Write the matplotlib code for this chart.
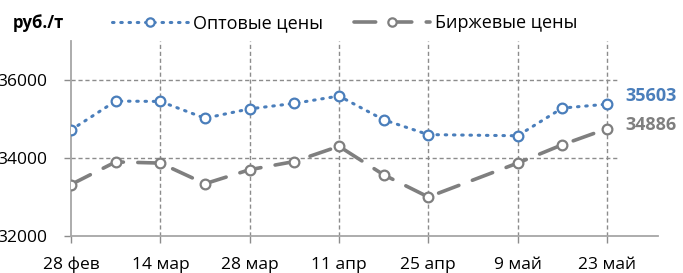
import matplotlib
matplotlib.use("Agg")
import matplotlib.pyplot as plt
import matplotlib.dates as mdates
from matplotlib.lines import Line2D
import datetime as dt

plt.rcParams['font.family'] = ['Open Sans', 'DejaVu Sans']

dates = ["2022-02-28", "2022-03-07", "2022-03-14", "2022-03-21", "2022-03-28",
         "2022-04-04", "2022-04-11", "2022-04-18", "2022-04-25",
         "2022-05-09", "2022-05-16", "2022-05-23"]
wholesale = [34720, 35460, 35450, 35020, 35260, 35400, 35590, 34980, 34600, 34570, 35280, 35380]
exchange = [33320, 33900, 33870, 33340, 33700, 33910, 34300, 33570, 33000, 33870, 34340, 34750]
tick_dates = ["2022-02-28", "2022-03-14", "2022-03-28", "2022-04-11", "2022-04-25", "2022-05-09", "2022-05-23"]
tick_labels = ["28 фев", "14 мар", "28 мар", "11 апр", "25 апр", "9 май", "23 май"]
yticks = [32000, 34000, 36000]
end_labels = ["35603", "34886"]
legend_labels = ["Оптовые цены", "Биржевые цены"]
unit_label = "руб./т"

BLUE = "#4A7EBB"
GRAY = "#7F7F7F"
GRID = "#8C8C8C"

x = [dt.datetime.strptime(d, "%Y-%m-%d") for d in dates]
xt = [dt.datetime.strptime(d, "%Y-%m-%d") for d in tick_dates]

fig = plt.figure(figsize=(6.83, 2.73), dpi=100)
ax = fig.add_axes([71/683, 37/273, (658-71)/683, (236-41)/273])

ax.set_xlim(xt[0], xt[-1] + dt.timedelta(days=8))
ax.set_ylim(32000, 37000)

# gridlines
for t in xt[1:]:
    ax.axvline(t, color=GRID, lw=1.0, ls=(0, (3, 2)), zorder=1)
gx_end = mdates.date2num(xt[-1]) + 1.7
for yv in yticks[1:]:
    ax.hlines(yv, mdates.date2num(xt[0]), gx_end, color=GRID, lw=1.0, ls=(0, (3, 2)), zorder=1)

ax.plot(x, wholesale, color=BLUE, lw=2.2, ls=(0, (0.5, 2.2)), dash_capstyle='round',
        marker='o', ms=7, mfc='white', mec=BLUE, mew=1.6, zorder=3)
ax.plot(x, exchange, color=GRAY, lw=2.6, ls=(0, (6, 4)), dash_capstyle='round',
        marker='o', ms=7, mfc='white', mec=GRAY, mew=1.6, zorder=3)

ax.set_xticks(xt)
ax.set_xticklabels(tick_labels)
ax.set_yticks(yticks)
ax.set_yticklabels([str(v) for v in yticks])
ax.tick_params(axis='both', labelsize=12.5, colors="#000000", length=5, width=1.0)
ax.tick_params(axis='x', color=GRID, pad=10)
ax.tick_params(axis='y', color=GRID, pad=12)

for s in ['top', 'right']:
    ax.spines[s].set_visible(False)
for s in ['left', 'bottom']:
    ax.spines[s].set_color("#A6A6A6")
    ax.spines[s].set_linewidth(1.3)
    ax.spines[s].set_zorder(2)

ax.annotate(end_labels[0], xy=(x[-1], wholesale[-1]), xytext=(13, 6), textcoords='offset points',
            color=BLUE, fontsize=13, fontweight='bold', va='center', ha='left', annotation_clip=False)
ax.annotate(end_labels[1], xy=(x[-1], exchange[-1]), xytext=(13, 3), textcoords='offset points',
            color=GRAY, fontsize=13, fontweight='bold', va='center', ha='left', annotation_clip=False)

fig.text(13/683, 1 - 23/273, unit_label, fontsize=12, fontweight='bold', va='center', ha='left')

handles = [
    Line2D([], [], color=BLUE, lw=2.2, ls=(0, (0.5, 2.2)), dash_capstyle='round',
           marker='o', ms=6, mfc='white', mec=BLUE, mew=1.6),
    Line2D([], [], color=GRAY, lw=2.6, ls=(0, (6, 4)), dash_capstyle='round',
           marker='o', ms=6, mfc='white', mec=GRAY, mew=1.6),
]
fig.legend(handles, legend_labels, loc='center left', bbox_to_anchor=(112/683, 1 - 23/273),
           ncol=2, frameon=False, fontsize=13, handlelength=4.2, columnspacing=1.7,
           handletextpad=0.3, borderaxespad=0, borderpad=0)

fig.savefig("out.png", dpi=100)
